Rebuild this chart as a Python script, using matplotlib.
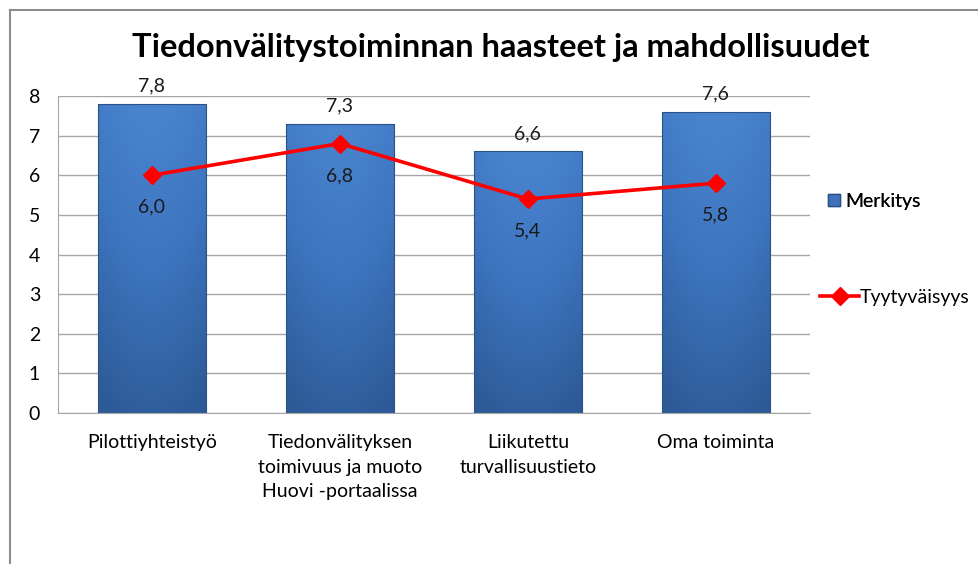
import numpy as np
import matplotlib
matplotlib.use("Agg")
import matplotlib.pyplot as plt
from matplotlib.lines import Line2D
from matplotlib.patches import Rectangle

categories = ["Pilottiyhteistyö",
              "Tiedonvälityksen\ntoimivuus ja muoto\nHuovi -portaalissa",
              "Liikutettu\nturvallisuustieto",
              "Oma toiminta"]
merkitys = [7.8, 7.3, 6.6, 7.6]
tyytyvaisyys = [6.0, 6.8, 5.4, 5.8]
yticks = [0, 1, 2, 3, 4, 5, 6, 7, 8]

plt.rcParams["font.family"] = ["Lato", "DejaVu Sans"]

fig = plt.figure(figsize=(9.79, 5.64), dpi=100)
ax = fig.add_axes([0.0592, 0.2677, 0.768, 0.5621])

x = np.arange(len(categories))
bars = ax.bar(x, merkitys, width=0.575, color="#3F72B8", zorder=2)

# shading to mimic the bevelled excel bars
grad = np.linspace(0, 1, 64)
shade = np.outer(np.ones(64), 0.85 + 0.15 * np.sin(np.pi * grad))
cmap = matplotlib.colors.LinearSegmentedColormap.from_list(
    "bar", ["#2D5A96", "#3D74BE", "#4A84CF"])
for b in bars:
    x0, w, h = b.get_x(), b.get_width(), b.get_height()
    vert = np.linspace(0.45, 1.0, 64)[:, None] * shade
    im = ax.imshow(vert, cmap=cmap, vmin=0.4, vmax=1.0, aspect="auto",
                   extent=(x0, x0 + w, 0, h), origin="lower", zorder=2.5)
    im.set_clip_path(b)
    ax.add_patch(Rectangle((x0, 0), w, h, fill=False, ec="#2A5288",
                           lw=0.8, zorder=2.6))
    ax.annotate(f"{h:.1f}".replace(".", ","), (x0 + w / 2, h),
                xytext=(0, 13), textcoords="offset points",
                ha="center", va="center", fontsize=14, color="#1a1a1a")

ax.plot(x, tyytyvaisyys, color="#FF0000", lw=2.6, marker="D",
        markersize=9, zorder=4)
for xi, v in zip(x, tyytyvaisyys):
    ax.annotate(f"{v:.1f}".replace(".", ","), (xi, v),
                xytext=(0, -23), textcoords="offset points",
                ha="center", va="center", fontsize=14, color="#1a1a1a",
                zorder=5)

ax.set_xlim(-0.5, len(categories) - 0.5)
ax.set_ylim(0, 8)
ax.set_yticks(yticks)
ax.set_xticks(x)
ax.set_xticklabels(categories, fontsize=14, linespacing=1.55)
ax.tick_params(axis="y", labelsize=14, length=0, pad=21)
ax.tick_params(axis="x", length=0, pad=15)
for t in ax.get_yticklabels():
    t.set_horizontalalignment("left")
ax.grid(axis="y", color="#A6A6A6", lw=1, zorder=0)
for s in ["top", "right"]:
    ax.spines[s].set_visible(False)
ax.spines["left"].set_color("#A6A6A6")
ax.spines["bottom"].set_color("#A6A6A6")

fig.text(0.512, 0.915, "Tiedonvälitystoiminnan haasteet ja mahdollisuudet",
         ha="center", va="center", fontsize=23.5, fontweight="bold")

handles = [Rectangle((0, 0), 1, 1, fc="#3F72B8", ec="#2A5288"),
           Line2D([], [], color="#FF0000", lw=2.6, marker="D", markersize=9)]
leg1 = fig.legend(handles[:1], ["Merkitys"], loc="center left",
                  bbox_to_anchor=(0.828, 0.643), frameon=False, fontsize=14,
                  handlelength=0.6, handleheight=0.6, handletextpad=0.3)
fig.legend(handles[1:], ["Tyytyväisyys"], loc="center left",
           bbox_to_anchor=(0.82, 0.472), frameon=False, fontsize=14,
           handlelength=2.0, handletextpad=0.05)
fig.add_artist(leg1)

# chart border
fig.add_artist(Line2D([0.0102, 0.0102], [0, 0.982], color="#8C8C8C", lw=1.5,
                      transform=fig.transFigure))
fig.add_artist(Line2D([0.0102, 1], [0.982, 0.982], color="#8C8C8C", lw=1.5,
                      transform=fig.transFigure))

fig.savefig("out.png", dpi=100)
